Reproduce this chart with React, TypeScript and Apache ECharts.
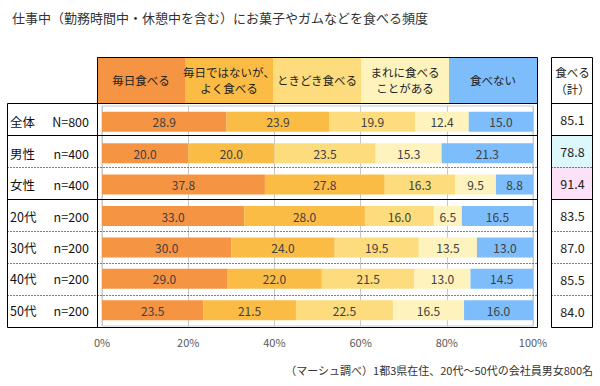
import React, { useEffect, useRef } from "react";
import * as echarts from "echarts";

const titleText = "仕事中（勤務時間中・休憩中を含む）にお菓子やガムなどを食べる頻度";
const footnote = "（マーシュ調べ）1都3県在住、20代～50代の会社員男女800名";
const categories = ["全体", "男性", "女性", "20代", "30代", "40代", "50代"];
const sampleSizes = ["N=800", "n=400", "n=400", "n=200", "n=200", "n=200", "n=200"];
const seriesNames = [
  "毎日食べる",
  "毎日ではないが、\nよく食べる",
  "ときどき食べる",
  "まれに食べる\nことがある",
  "食べない",
];
const everyday = [28.9, 20.0, 37.8, 33.0, 30.0, 29.0, 23.5];
const often = [23.9, 20.0, 27.8, 28.0, 24.0, 22.0, 21.5];
const sometimes = [19.9, 23.5, 16.3, 16.0, 19.5, 21.5, 22.5];
const rarely = [12.4, 15.3, 9.5, 6.5, 13.5, 13.0, 16.5];
const never = [15.0, 21.3, 8.8, 16.5, 13.0, 14.5, 16.0];
const totalsHeader = "食べる\n（計）";
const totals = [85.1, 78.8, 91.4, 83.5, 87.0, 85.5, 84.0];

const colors = ["#F59443", "#FBBC46", "#FCDC7C", "#FEF2BD", "#7DBDFB"];
const totalBg = [null, "#DDF8FD", "#FDE1F8", null, null, null, null];
const FONT = "'Noto Sans CJK JP', 'Noto Sans', sans-serif";

export default function App() {
  const ref = useRef<HTMLDivElement>(null);
  useEffect(() => {
    if (!ref.current) return;
    const chart = echarts.init(ref.current, undefined, { renderer: "svg" });

    const values = [everyday, often, sometimes, rarely, never];
    const tableLeft = 7;
    const labelRight = 97;
    const tableRight = 537;
    const headTop = 57;
    const headBottom = 103;
    const rowH = 32;
    const nRows = categories.length;
    const tableBottom = headBottom + rowH * nRows;
    const boxL = 551;
    const boxR = 592;
    const solidAfter = [0, 2];
    const cellW = (tableRight - labelRight) / seriesNames.length;

    const g: any[] = [];
    // header cells
    seriesNames.forEach((name, i) => {
      g.push({
        type: "rect",
        shape: { x: labelRight + cellW * i, y: headTop, width: cellW, height: headBottom - headTop },
        style: { fill: colors[i] },
        z: 1,
      });
      g.push({
        type: "text",
        x: labelRight + cellW * i + cellW / 2,
        y: (headTop + headBottom) / 2,
        style: {
          text: name,
          fill: "#222",
          font: `11.5px ${FONT}`,
          align: "center",
          verticalAlign: "middle",
          lineHeight: 16,
        },
        z: 2,
      });
    });
    // total backgrounds
    totalBg.forEach((c, i) => {
      if (!c) return;
      g.push({
        type: "rect",
        shape: { x: boxL, y: headBottom + rowH * i, width: boxR - boxL, height: rowH },
        style: { fill: c },
        z: 1,
      });
    });
    const line = (x1: number, y1: number, x2: number, y2: number, dotted = false) => ({
      type: "line",
      shape: { x1, y1, x2, y2 },
      style: { stroke: "#000", lineWidth: 1, lineDash: dotted ? [1, 2] : null },
      z: 5,
    });
    const h = 0.5;
    // main table borders
    g.push(line(labelRight + h, headTop + h, tableRight + h, headTop + h));
    g.push(line(tableLeft + h, headBottom + h, tableRight + h, headBottom + h));
    g.push(line(tableLeft + h, tableBottom + h, tableRight + h, tableBottom + h));
    g.push(line(tableLeft + h, headBottom + h, tableLeft + h, tableBottom + h));
    g.push(line(labelRight + h, headTop + h, labelRight + h, tableBottom + h));
    g.push(line(tableRight + h, headTop + h, tableRight + h, tableBottom + h));
    // right box
    g.push(line(boxL + h, headTop + h, boxR + h, headTop + h));
    g.push(line(boxL + h, headBottom + h, boxR + h, headBottom + h));
    g.push(line(boxL + h, tableBottom + h, boxR + h, tableBottom + h));
    g.push(line(boxL + h, headTop + h, boxL + h, tableBottom + h));
    g.push(line(boxR + h, headTop + h, boxR + h, tableBottom + h));
    for (let k = 0; k < nRows - 1; k++) {
      const y = headBottom + rowH * (k + 1) + h;
      const dotted = !solidAfter.includes(k);
      g.push(line(tableLeft + h, y, tableRight + h, y, dotted));
      g.push(line(boxL + h, y, boxR + h, y, dotted));
    }
    g.push({
      type: "text",
      x: (boxL + boxR) / 2 + 1,
      y: (headTop + headBottom) / 2,
      style: {
        text: totalsHeader,
        fill: "#222",
        font: `11.5px ${FONT}`,
        align: "center",
        verticalAlign: "middle",
        lineHeight: 17,
      },
      z: 6,
    });
    totals.forEach((v, i) => {
      g.push({
        type: "text",
        x: (boxL + boxR) / 2 + 1,
        y: headBottom + rowH * i + rowH / 2,
        style: {
          text: v.toFixed(1),
          fill: "#222",
          font: `12.5px ${FONT}`,
          align: "center",
          verticalAlign: "middle",
        },
        z: 6,
      });
    });
    g.push({
      type: "text",
      x: 593,
      y: 370,
      style: {
        text: footnote,
        fill: "#333",
        font: `11px ${FONT}`,
        align: "right",
        verticalAlign: "middle",
      },
      z: 6,
    });

    chart.setOption({
      animation: false,
      textStyle: { fontFamily: FONT },
      title: {
        text: titleText,
        left: 7,
        top: 6,
        textStyle: { fontSize: 13, fontWeight: "normal", color: "#333", fontFamily: FONT },
      },
      grid: {
        left: 102,
        right: 600 - 533,
        top: 106,
        height: 220,
        show: true,
        borderColor: "#C8C8C8",
        borderWidth: 1,
        backgroundColor: "#fff",
      },
      xAxis: {
        type: "value",
        min: 0,
        max: 100,
        interval: 20,
        axisLine: { show: false },
        axisTick: { show: false },
        splitLine: { show: true, lineStyle: { color: "#C8C8C8", width: 1 } },
        axisLabel: { formatter: "{value}%", color: "#595959", fontSize: 11, margin: 10 },
      },
      yAxis: {
        type: "category",
        inverse: true,
        data: categories,
        axisLine: { show: false },
        axisTick: { show: false },
        axisLabel: {
          margin: 13,
          formatter: (val: string, idx: number) => `{a|${val}}{b|${sampleSizes[idx]}}`,
          rich: {
            a: { width: 40, align: "left", fontSize: 12.5, color: "#111", fontFamily: FONT },
            b: { width: 39, align: "right", fontSize: 12.5, color: "#111", fontFamily: FONT },
          },
        },
      },
      series: seriesNames.map((name, i) => ({
        type: "bar",
        name,
        stack: "total",
        barWidth: 20,
        data: values[i],
        itemStyle: { color: colors[i] },
        label: {
          show: true,
          position: "inside",
          color: "#404040",
          fontSize: 12,
          formatter: (p: any) => Number(p.value).toFixed(1),
        },
      })),
      graphic: g,
    });
    return () => chart.dispose();
  }, []);
  return <div ref={ref} style={{ width: 600, height: 386, position: "absolute", left: 0, top: 0 }} />;
}
